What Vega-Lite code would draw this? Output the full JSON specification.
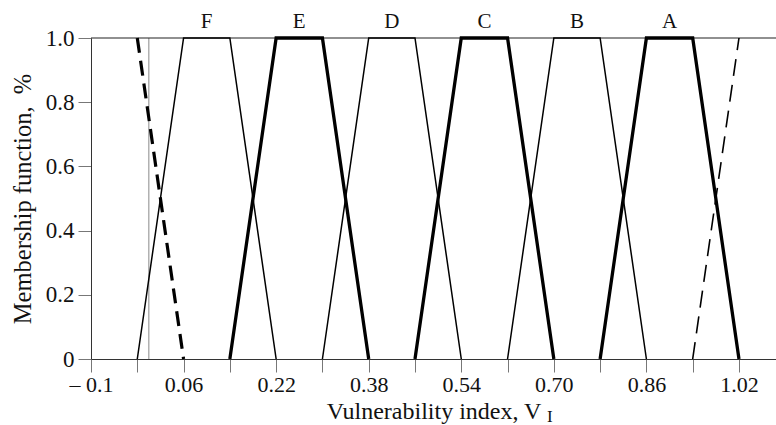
{
  "$schema": "https://vega.github.io/schema/vega-lite/v6.json",
  "width": 685,
  "height": 321,
  "autosize": "none",
  "padding": {"left": 91, "top": 38, "right": 0, "bottom": 66},
  "background": "white",
  "data": {"values": [{}]},
  "config": {
    "view": {"stroke": null},
    "font": "Liberation Serif",
    "axis": {"grid": false, "labelFont": "Liberation Serif", "titleFont": "Liberation Serif", "labelColor": "#111", "titleColor": "#111", "titleFontWeight": "normal"}
  },
  "datasets": {
    "curves": [
      {"series": "F", "weight": "thin", "o": 1, "v": -0.02, "mu": 0},
      {"series": "F", "weight": "thin", "o": 2, "v": 0.06, "mu": 1},
      {"series": "F", "weight": "thin", "o": 3, "v": 0.14, "mu": 1},
      {"series": "F", "weight": "thin", "o": 4, "v": 0.22, "mu": 0},
      {"series": "E", "weight": "thick", "o": 1, "v": 0.14, "mu": 0},
      {"series": "E", "weight": "thick", "o": 2, "v": 0.22, "mu": 1},
      {"series": "E", "weight": "thick", "o": 3, "v": 0.30, "mu": 1},
      {"series": "E", "weight": "thick", "o": 4, "v": 0.38, "mu": 0},
      {"series": "D", "weight": "thin", "o": 1, "v": 0.30, "mu": 0},
      {"series": "D", "weight": "thin", "o": 2, "v": 0.38, "mu": 1},
      {"series": "D", "weight": "thin", "o": 3, "v": 0.46, "mu": 1},
      {"series": "D", "weight": "thin", "o": 4, "v": 0.54, "mu": 0},
      {"series": "C", "weight": "thick", "o": 1, "v": 0.46, "mu": 0},
      {"series": "C", "weight": "thick", "o": 2, "v": 0.54, "mu": 1},
      {"series": "C", "weight": "thick", "o": 3, "v": 0.62, "mu": 1},
      {"series": "C", "weight": "thick", "o": 4, "v": 0.70, "mu": 0},
      {"series": "B", "weight": "thin", "o": 1, "v": 0.62, "mu": 0},
      {"series": "B", "weight": "thin", "o": 2, "v": 0.70, "mu": 1},
      {"series": "B", "weight": "thin", "o": 3, "v": 0.78, "mu": 1},
      {"series": "B", "weight": "thin", "o": 4, "v": 0.86, "mu": 0},
      {"series": "A", "weight": "thick", "o": 1, "v": 0.78, "mu": 0},
      {"series": "A", "weight": "thick", "o": 2, "v": 0.86, "mu": 1},
      {"series": "A", "weight": "thick", "o": 3, "v": 0.94, "mu": 1},
      {"series": "A", "weight": "thick", "o": 4, "v": 1.02, "mu": 0}
    ],
    "lowDash": [
      {"series": "low", "o": 1, "v": -0.02, "mu": 1},
      {"series": "low", "o": 2, "v": 0.06, "mu": 0}
    ],
    "highDash": [
      {"series": "high", "o": 1, "v": 0.94, "mu": 0},
      {"series": "high", "o": 2, "v": 1.02, "mu": 1}
    ],
    "letters": [
      {"label": "F", "v": 0.10},
      {"label": "E", "v": 0.26},
      {"label": "D", "v": 0.42},
      {"label": "C", "v": 0.58},
      {"label": "B", "v": 0.74},
      {"label": "A", "v": 0.90}
    ]
  },
  "layer": [
    {
      "mark": {"type": "rule", "color": "#888", "strokeWidth": 1},
      "encoding": {
        "x": {"datum": 0, "type": "quantitative", "scale": {"domain": [-0.1, 1.084], "nice": false, "zero": false}},
        "y": {"datum": 0, "type": "quantitative"},
        "y2": {"datum": 1}
      }
    },
    {
      "mark": {"type": "rule", "color": "#222", "strokeWidth": 1.2},
      "encoding": {
        "y": {"datum": 1, "type": "quantitative"}
      }
    },
    {
      "data": {"name": "curves"},
      "mark": {"type": "line", "color": "black", "strokeJoin": "miter"},
      "encoding": {
        "x": {
          "field": "v", "type": "quantitative",
          "scale": {"domain": [-0.1, 1.084], "nice": false, "zero": false},
          "axis": {
            "values": [-0.1, -0.02, 0.06, 0.14, 0.22, 0.30, 0.38, 0.46, 0.54, 0.62, 0.70, 0.78, 0.86, 0.94, 1.02],
            "labelExpr": "abs(datum.value + 0.1) < 0.001 ? '– 0.1' : (round((datum.value + 0.1) / 0.08) % 2 == 0 ? format(datum.value, '.2f') : '')",
            "tickSize": 13, "tickColor": "#777", "domainColor": "#333",
            "labelFontSize": 22, "labelPadding": 2, "labelFlush": false,
            "title": "Vulnerability index, V", "titleFontSize": 24, "titlePadding": 4
          }
        },
        "y": {
          "field": "mu", "type": "quantitative",
          "scale": {"domain": [0, 1], "nice": false},
          "axis": {
            "values": [0, 0.2, 0.4, 0.6, 0.8, 1.0],
            "labelExpr": "datum.value == 0 ? '0' : format(datum.value, '.1f')",
            "tickSize": 13, "tickColor": "#777", "domainColor": "#333",
            "labelFontSize": 23, "labelPadding": 4,
            "title": "Membership function,\u00a0 %", "titleFontSize": 24.5, "titlePadding": 10
          }
        },
        "detail": {"field": "series"},
        "order": {"field": "o"},
        "strokeWidth": {"field": "weight", "type": "nominal", "scale": {"domain": ["thin", "thick"], "range": [1.5, 3.3]}, "legend": null}
      }
    },
    {
      "data": {"name": "lowDash"},
      "mark": {"type": "line", "color": "black", "strokeWidth": 3.2, "strokeDash": [15, 8]},
      "encoding": {
        "x": {"field": "v", "type": "quantitative"},
        "y": {"field": "mu", "type": "quantitative"},
        "order": {"field": "o"}
      }
    },
    {
      "data": {"name": "highDash"},
      "mark": {"type": "line", "color": "black", "strokeWidth": 1.6, "strokeDash": [17, 9]},
      "encoding": {
        "x": {"field": "v", "type": "quantitative"},
        "y": {"field": "mu", "type": "quantitative"},
        "order": {"field": "o"}
      }
    },
    {
      "data": {"name": "letters"},
      "mark": {"type": "text", "fontSize": 21, "font": "Liberation Serif", "baseline": "alphabetic", "dy": -10, "color": "#111"},
      "encoding": {
        "x": {"field": "v", "type": "quantitative"},
        "y": {"datum": 1, "type": "quantitative"},
        "text": {"field": "label"}
      }
    },
    {
      "mark": {"type": "text", "fontSize": 17, "font": "Liberation Serif", "baseline": "alphabetic", "align": "left", "dy": 63, "color": "#111"},
      "encoding": {
        "x": {"datum": 0.688, "type": "quantitative"},
        "y": {"datum": 0, "type": "quantitative"},
        "text": {"value": "I"}
      }
    }
  ]
}
